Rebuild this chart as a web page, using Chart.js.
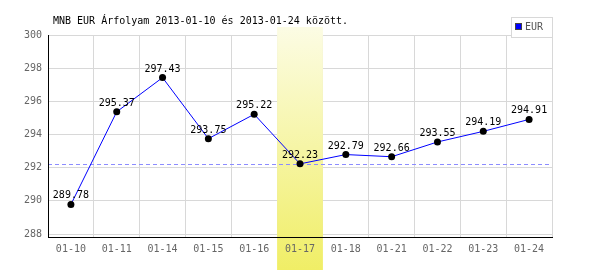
<!DOCTYPE html>
<html>
<head>
<meta charset="utf-8">
<script src="https://cdn.jsdelivr.net/npm/chart.js@4"></script>
<style>
  html, body { margin: 0; padding: 0; background: #fff; }
  #wrap { width: 600px; height: 270px; }
</style>
</head>
<body>
<div id="wrap"><canvas id="grafico" width="600" height="270"></canvas></div>
<script>
const napok = ['01-10', '01-11', '01-14', '01-15', '01-16', '01-17', '01-18', '01-21', '01-22', '01-23', '01-24'];
const arfolyam = [289.78, 295.37, 297.43, 293.75, 295.22, 292.23, 292.79, 292.66, 293.55, 294.19, 294.91];
const yTickek = [288, 290, 292, 294, 296, 298, 300];
const kiemelt = '01-17';
const szaggatott = 292.23;
const cim = 'MNB EUR Árfolyam 2013-01-10 és 2013-01-24 között.';
const betu = '10px "DejaVu Sans Mono", monospace';

// kiemelt nap sávja + szaggatott vonal
const hatter = {
  id: 'hatter',
  beforeDatasetsDraw(chart) {
    const { ctx, chartArea, scales } = chart;
    const x = scales.x;
    const i = napok.indexOf(kiemelt);
    const w = x.getPixelForValue(1) - x.getPixelForValue(0);
    const left = x.getPixelForValue(i) - w / 2;
    const g = ctx.createLinearGradient(0, 27, 0, 270);
    g.addColorStop(0, '#fcfce4');
    g.addColorStop(1, '#f0ee66');
    ctx.save();
    ctx.fillStyle = g;
    ctx.fillRect(left, 27, w, 243);
    // szaggatott vonal
    const y = Math.round(scales.y.getPixelForValue(szaggatott)) + 0.5;
    ctx.strokeStyle = '#8c8cff';
    ctx.lineWidth = 1;
    ctx.setLineDash([4, 3]);
    ctx.beginPath();
    ctx.moveTo(chartArea.left, y);
    ctx.lineTo(chartArea.right, y);
    ctx.stroke();
    ctx.restore();
  },
  afterDatasetsDraw(chart) {
    const { ctx } = chart;
    const meta = chart.getDatasetMeta(0);
    ctx.save();
    ctx.font = betu;
    ctx.fillStyle = '#000';
    ctx.textAlign = 'center';
    ctx.textBaseline = 'alphabetic';
    meta.data.forEach((p, i) => {
      ctx.fillText(arfolyam[i].toFixed(2), p.x, p.y - 6);
    });
    ctx.restore();
  },
  afterDraw(chart) {
    const { ctx } = chart;
    ctx.save();
    ctx.font = betu;
    ctx.fillStyle = '#000';
    ctx.textBaseline = 'middle';
    ctx.fillText(cim, 53, 21);
    // jelmagyarázat
    ctx.strokeStyle = '#d8d8d8';
    ctx.lineWidth = 1;
    ctx.fillStyle = '#fff';
    ctx.fillRect(511.5, 17.5, 41, 20);
    ctx.strokeRect(511.5, 17.5, 41, 20);
    ctx.fillStyle = '#0000ff';
    ctx.fillRect(516, 24, 6, 6);
    ctx.strokeStyle = '#444';
    ctx.strokeRect(515.5, 23.5, 6, 6);
    ctx.fillStyle = '#555';
    ctx.fillText('EUR', 525, 27.5);
    ctx.restore();
  }
};

const ctx = document.getElementById('grafico').getContext('2d');

const myChart = new Chart(ctx, {
  type: 'line',
  data: {
    labels: napok,
    datasets: [{
      label: 'EUR',
      data: arfolyam,
      borderColor: '#0000ff',
      borderWidth: 1,
      backgroundColor: '#000',
      pointBackgroundColor: '#000',
      pointBorderColor: '#000',
      pointRadius: 3.5,
      pointBorderWidth: 0,
      tension: 0,
      fill: false
    }]
  },
  options: {
    responsive: false,
    animation: false,
    layout: { padding: { left: 0, top: 35, right: 48, bottom: 0 } },
    plugins: {
      legend: { display: false },
      title: { display: false },
      tooltip: { enabled: false }
    },
    scales: {
      x: {
        offset: true,
        grid: { color: '#d8d8d8', offset: true, drawTicks: false },
        border: { color: '#000', width: 1, z: 1 },
        ticks: { color: '#666', font: { family: 'DejaVu Sans Mono', size: 10 }, padding: 6, z: 1, maxRotation: 0, autoSkip: false },
        afterFit(scale) { scale.height = 33; }
      },
      y: {
        min: 287.82,
        max: 300,
        grid: { color: '#d8d8d8', drawTicks: false },
        border: { color: '#000', width: 1, z: 1 },
        ticks: { color: '#666', font: { family: 'DejaVu Sans Mono', size: 10 }, padding: 6, z: 1 },
        afterBuildTicks(scale) { scale.ticks = yTickek.map(v => ({ value: v })); },
        afterFit(scale) { scale.width = 48; }
      }
    }
  },
  plugins: [hatter]
});
</script>
</body>
</html>
